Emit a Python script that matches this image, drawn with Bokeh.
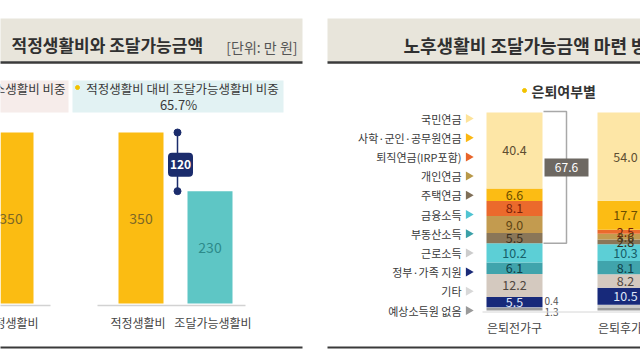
import math
from bokeh.plotting import figure
from bokeh.models import Range1d, ColumnDataSource
from bokeh.core.properties import value
from bokeh.embed import file_html
from bokeh.resources import INLINE

FONT = value("Noto Sans CJK KR")

# ---------------- data ----------------
# Left panel: 적정생활비와 조달가능금액 (단위: 만 원)
left_title = "적정생활비와 조달가능금액"
left_unit = "[단위: 만 원]"
left_labels = ["적정생활비", "적정생활비", "조달가능생활비"]
left_values = [350, 350, 230]
left_kinds = ["need", "need", "avail"]
left_box_texts = ["적정생활비 대비 최소생활비 비중", "적정생활비 대비 조달가능생활비 비중"]

# Right panel: 노후생활비 조달가능금액 마련 방안 (은퇴여부별, %)
right_title = "노후생활비 조달가능금액 마련 방안"
right_subtitle = "은퇴여부별"
income_sources = ["국민연금", "사학·군인·공무원연금", "퇴직연금(IRP포함)", "개인연금", "주택연금",
                  "금융소득", "부동산소득", "근로소득", "정부·가족 지원", "기타", "예상소득원 없음"]
households = ["은퇴전가구", "은퇴후가구"]
pre_retired = [40.4, 6.6, 8.1, 9.0, 5.5, 10.2, 6.1, 12.2, 5.5, 0.4, 1.3]
post_retired = [54.0, 17.7, 2.5, 3.6, 2.8, 10.3, 8.1, 8.2, 10.5, 1.9, 1.6]
pension_bracket = 67.6
pension_count = 5

# ---------------- styles ----------------
seg_colors = ["#fde6a6", "#fcbc14", "#eb6a2c", "#c39b4f", "#8a7658",
              "#5ccfd6", "#40a4ac", "#d4c9bf", "#17297a", "#c9c9c9", "#9c9c9c"]
tri_colors = ["#fde39a", "#fbb812", "#e8642a", "#b89848", "#7f6f58",
              "#4fc4d2", "#3aa0a8", "#cccccc", "#1a2a78", "#d8d8d8", "#9a9a9a"]
seg_text_colors = ["#5e4e32", "#6b4e00", "#7a2208", "#5e4515", "#3a2e1c",
                   "#17606a", "#0f4048", "#4f4640", "#dfe6f8", "#444444", "#444444"]
kind_colors = {"need": "#fbbc12", "avail": "#5ec6c5"}
kind_text = {"need": "#7d6826", "avail": "#2d8a8a"}
NAVY = "#1b2c6c"
HEADER_BG = "#e8e5db"
DARK = "#3a3a3a"

# ---------------- canvas (reference pixel space) ----------------
W, H = 640, 360
X0, Y0 = 0, 0
X1, Y1 = X0 + W, Y0 + H
p = figure(width=W, height=H, x_range=Range1d(X0, X1), y_range=Range1d(Y1, Y0),
           output_backend="svg", toolbar_location=None,
           x_axis_location=None, y_axis_location=None, min_border=0)
p.grid.visible = False
p.outline_line_color = None
p.background_fill_color = "white"
p.border_fill_color = "white"


def mapped_range(v_a, py_a, v_b, py_b):
    slope = (v_b - v_a) / (py_b - py_a)
    return Range1d(start=v_a + (Y1 - py_a) * slope, end=v_a + (Y0 - py_a) * slope)


p.extra_y_ranges = {"amt": mapped_range(0, 303, 350, 132),
                    "pct": mapped_range(0, 310, 100, 112)}

# ---------------- panel frames ----------------
panel_left = [-10, 327]
panel_right = [302, 680]
p.quad(left=panel_left, right=panel_right, top=[18, 18], bottom=[61, 61],
       fill_color=HEADER_BG, line_color=None)
p.segment(x0=panel_left, x1=panel_right, y0=[62, 62], y1=[62, 62], line_color=DARK, line_width=2.5)
p.segment(x0=panel_left, x1=panel_right, y0=[347, 347], y1=[347, 347], line_color=DARK, line_width=2)

p.text(x=[11], y=[44], text=[left_title], text_font=FONT,
       text_font_size="17px", text_font_style="bold", text_color="#303030", text_baseline="middle")
p.text(x=[403], y=[44], text=[right_title], text_font=FONT,
       text_font_size="18px", text_font_style="bold", text_color="#303030", text_baseline="middle")
p.text(x=[297], y=[46], text=[left_unit], text_font=FONT, text_font_size="14px",
       text_color="#555555", text_align="right", text_baseline="middle")

# ---------------- left panel ----------------
need = left_values[1]
avail = left_values[2]
ratio = avail / need * 100
gap = need - avail

# info boxes
p.quad(left=[-150, 72], right=[68, 283], top=[80, 80], bottom=[112, 112],
       fill_color=["#f6ecea", "#e2f2f3"], line_color=None)
p.text(x=[65], y=[88], text=[left_box_texts[0]], text_font=FONT, text_font_size="12.5px",
       text_color="#3a3a3a", text_align="right", text_baseline="middle")
p.scatter(x=[77], y=[87], size=4, color="#f2c200", marker="circle")
p.text(x=[182], y=[88], text=[left_box_texts[1]], text_font=FONT, text_font_size="12.5px",
       text_color="#3a3a3a", text_align="center", text_baseline="middle")
p.text(x=[178], y=[104], text=[f"{ratio:.1f}%"], text_font=FONT, text_font_size="13px",
       text_color="#3a3a3a", text_align="center", text_baseline="middle")

left_x = [10.5, 140.5, 209.5]
bar_w = 45
p.vbar(x=left_x, top=left_values, bottom=0, width=bar_w,
       fill_color=[kind_colors[k] for k in left_kinds], line_color=None, y_range_name="amt")
p.text(x=left_x, y=[v / 2 for v in left_values], text=[str(v) for v in left_values],
       text_font=FONT, text_font_size="14px", text_color=[kind_text[k] for k in left_kinds],
       text_align="center", text_baseline="middle", y_range_name="amt")
p.segment(x0=[-20, 97], x1=[50, 245], y0=[305, 305], y1=[305, 305], line_color="#d2d2d2", line_width=1.5)
p.text(x=left_x, y=[322] * 3, text=left_labels, x_offset=[0, -3, 3], text_font=FONT,
       text_font_size="12px", text_color="#454545", text_align="center", text_baseline="middle")

# difference marker
gx = 177
box_y = avail + (need - avail) * 0.45
p.segment(x0=[gx], x1=[gx], y0=[need], y1=[avail], line_color=NAVY, line_width=1.5, y_range_name="amt")
p.scatter(x=[gx, gx], y=[need, avail], size=7, color=NAVY, y_range_name="amt")
p.rect(x=[180], y=[box_y], width=25, height=24, width_units="screen",
       height_units="screen", fill_color=NAVY, line_color=None, border_radius=4, y_range_name="amt")
p.text(x=[180], y=[box_y], text=[str(gap)], text_font=FONT, text_font_size="12px",
       text_font_style="bold", text_color="white", text_align="center", text_baseline="middle",
       y_range_name="amt")

# ---------------- right panel ----------------
p.scatter(x=[524], y=[90], size=4, color="#f2c200")
p.text(x=[531], y=[90], text=[right_subtitle], text_font=FONT, text_font_size="14px",
       text_font_style="bold", text_color="#333333", text_baseline="middle")

leg_y = [118 + i * 19.2 for i in range(len(income_sources))]
p.text(x=[461] * len(income_sources), y=leg_y, text=income_sources, text_font=FONT,
       text_font_size="11px", text_color="#3a3a3a", text_align="right", text_baseline="middle")
p.scatter(x=[468] * len(income_sources), y=leg_y, marker="triangle", size=9,
          angle=-math.pi / 2, fill_color=tri_colors, line_color=None)

hh_x = [514, 625]
hh_w = 56
series = [pre_retired, post_retired]
shares = [[v / sum(vals) * 100 for v in vals] for vals in series]
keys = [f"s{i}" for i in range(len(income_sources))]
data = {"x": hh_x}
for i, k in enumerate(keys):
    data[k] = [sh[i] for sh in shares]
src = ColumnDataSource(data)
p.vbar_stack(keys[::-1], x="x", width=hh_w, fill_color=seg_colors[::-1], line_color=None,
             source=src, y_range_name="pct")

lx, ly, lt, lc, sx, sy, st, soff = [], [], [], [], [], [], [], []
for j, (vals, sh) in enumerate(zip(series, shares)):
    top = 100.0
    small_i = 0
    for i, (v, s) in enumerate(zip(vals, sh)):
        mid = top - s / 2
        if v >= 2:
            lx.append(hh_x[j]); ly.append(mid); lt.append(f"{v:.1f}"); lc.append(seg_text_colors[i])
        else:
            sx.append(hh_x[j] + hh_w / 2 + 9); sy.append(mid); st.append(f"{v:.1f}")
            soff.append(-7 if small_i == 0 else 3)
            small_i += 1
        top -= s
p.text(x=lx, y=ly, text=lt, text_font=FONT, text_font_size="12.5px", text_color=lc,
       text_align="center", text_baseline="middle", y_range_name="pct")
p.text(x=sx, y=sy, text=st, y_offset=soff, text_font=FONT, text_font_size="10px",
       text_color="#555555", text_align="center", text_baseline="middle", y_range_name="pct")

# bracket for pensions (first bar)
b_bottom = 100 - sum(shares[0][:pension_count])
bx0 = hh_x[0] + hh_w / 2 + 1
bx1 = 566
p.line(x=[bx0, bx1, bx1, bx0], y=[100.5, 100.5, b_bottom, b_bottom], line_color="#a8a8a8",
       line_width=1.5, y_range_name="pct")
b_mid = 100 - (100 - b_bottom) * 0.42
p.rect(x=[bx1], y=[b_mid], width=44, height=18, width_units="screen", height_units="screen",
       fill_color="#6d6862", line_color=None, y_range_name="pct")
p.text(x=[bx1], y=[b_mid], text=[f"{pension_bracket:.1f}"], text_font=FONT, text_font_size="12px",
       text_color="white", text_align="center", text_baseline="middle", y_range_name="pct")

p.segment(x0=[482], x1=[660], y0=[311.5], y1=[311.5], line_color="#d6d6d6", line_width=1)
p.text(x=hh_x, y=[327, 327], text=households, text_font=FONT, text_font_size="12px",
       text_color="#454545", text_align="center", text_baseline="middle")

open("out.html", "w").write(file_html(p, INLINE))
